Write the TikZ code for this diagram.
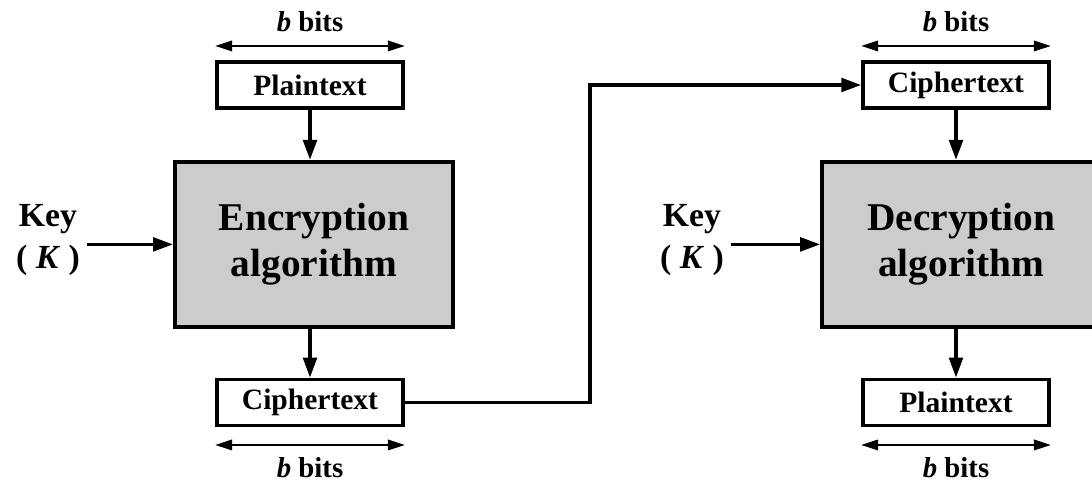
\documentclass[tikz,border=0pt]{standalone}
\usepackage{fontspec}
\setmainfont{Liberation Serif}
\usetikzlibrary{arrows.meta,positioning}
\definecolor{boxgray}{RGB}{204,204,204}
\tikzset{
  databox/.style={draw, line width=2.5pt, minimum width=4.65cm, minimum height=1.15cm,
    inner sep=0pt, font=\fontsize{21}{25}\selectfont\bfseries},
  algbox/.style={draw, fill=boxgray, line width=2.8pt, minimum width=6.95cm, minimum height=4.125cm,
    align=center, font=\fontsize{28}{33}\selectfont\bfseries},
  keylabel/.style={align=center, inner xsep=5pt, inner ysep=2pt, font=\fontsize{24}{30.5}\selectfont\bfseries},
  bitslabel/.style={font=\fontsize{20.5}{24}\selectfont\bfseries},
  flow/.style={-{Triangle[length=0.5cm,width=0.34cm]}, line width=2.5pt},
  span/.style={{Triangle[length=0.42cm,width=0.26cm]}-{Triangle[length=0.42cm,width=0.26cm]}, line width=1.5pt},
}
\begin{document}
\begin{tikzpicture}
  \useasboundingbox (0,0) rectangle (27.3,12.1);
  % encryption side
  \node[databox] (pt1) at (7.75,9.975) {Plaintext};
  \node[algbox] (enc) at (7.85,5.99) {Encryption\\algorithm};
  \node[databox] (ct1) at (7.75,2.04) {Ciphertext};
  \node[keylabel] (key1) at (1.2,6.1) {Key\\( \textit{K} )};
  % decryption side
  \node[databox] (ct2) at (23.9,9.975) {Ciphertext};
  \node[algbox] (dec) at (24.03,5.99) {Decryption\\algorithm};
  \node[databox] (pt2) at (23.9,2.04) {Plaintext};
  \node[keylabel] (key2) at (17.3,6.1) {Key\\( \textit{K} )};
  % block widths
  \foreach \b/\sd/\yy/\ty in {pt1/north/10.95/11.55, ct2/north/10.95/11.55, ct1/south/0.975/0.4, pt2/south/0.975/0.4} {
    \coordinate (\b-l) at (\b.\sd\space west |- 0,\yy);
    \coordinate (\b-r) at (\b.\sd\space east |- 0,\yy);
    \draw[span] (\b-l) -- (\b-r);
    \node[bitslabel] (\b-bits) at (\b |- 0,\ty) {\textit{b} bits};
  }
  % flows
  \draw[flow] (pt1.south) -- (pt1 |- enc.north);
  \draw[flow] (pt1 |- enc.south) -- (ct1.north);
  \draw[flow] (ct2.south) -- (ct2 |- dec.north);
  \draw[flow] (ct2 |- dec.south) -- (pt2.north);
  \draw[flow] (key1.east |- enc.west) -- (enc.west);
  \draw[flow] (key2.east |- dec.west) -- (dec.west);
  \coordinate (relay) at (14.75,6);
  \draw[flow] (ct1.east) -| (relay) |- (ct2.west);
\end{tikzpicture}
\end{document}
